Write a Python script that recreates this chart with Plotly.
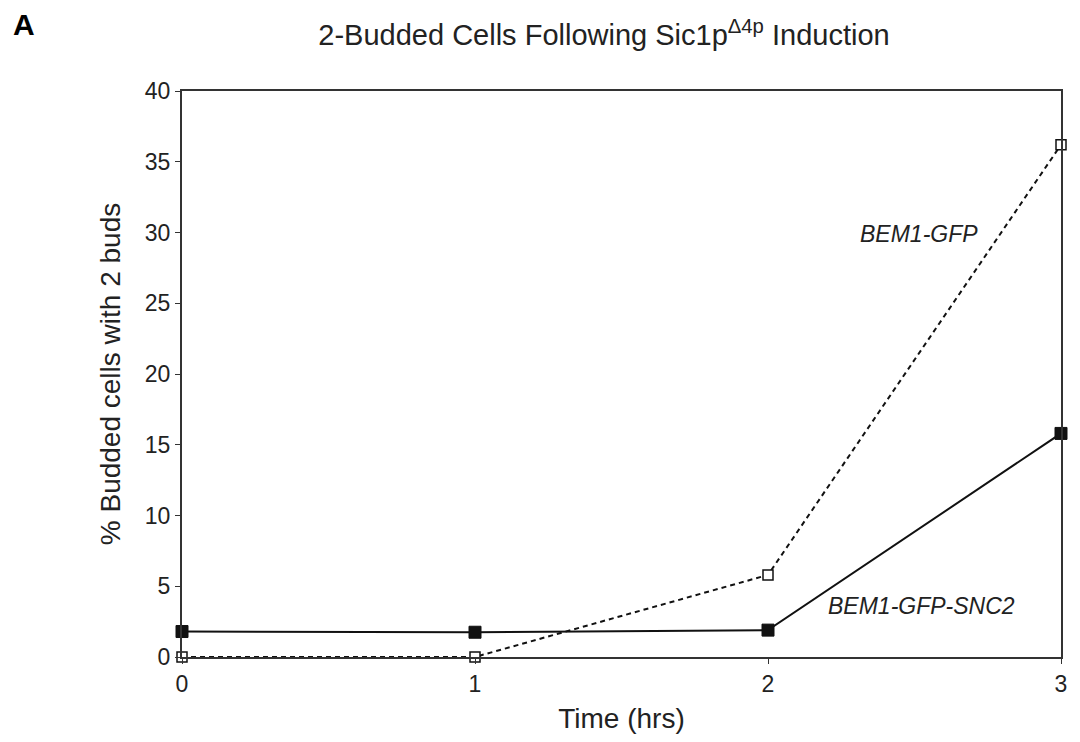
import plotly.graph_objects as go

time_hrs = [0, 1, 2, 3]
bem1_gfp = [0, 0, 5.8, 36.2]
bem1_gfp_snc2 = [1.8, 1.75, 1.9, 15.8]
x_ticks = [0, 1, 2, 3]
y_ticks = [0, 5, 10, 15, 20, 25, 30, 35, 40]

FONT = "Liberation Sans, Arial, Helvetica, sans-serif"
INK = "#222222"
AX = "#333333"

# page body has an 8px margin; size the figure so the plot lands where the reference has it
W, H = 1064, 726
L, R, T, B = 174, 5, 83, 74
PW, PH = W - L - R, H - T - B

fig = go.Figure()
fig.add_trace(go.Scatter(
    x=time_hrs, y=bem1_gfp, mode="lines+markers", name="BEM1-GFP",
    line=dict(color="#111111", width=2, dash="5px,4px"),
    marker=dict(symbol="square", size=10, color="white", line=dict(color="#111111", width=1.5)),
    cliponaxis=False,
))
fig.add_trace(go.Scatter(
    x=time_hrs, y=bem1_gfp_snc2, mode="lines+markers", name="BEM1-GFP-SNC2",
    line=dict(color="#111111", width=2),
    marker=dict(symbol="square", size=12, color="#111111", line=dict(color="#111111", width=1)),
    cliponaxis=False,
))

fig.add_annotation(x=2.515, y=29.9, text="<i>BEM1-GFP</i>", showarrow=False,
                   font=dict(family=FONT, size=23, color=INK))
fig.add_annotation(x=2.525, y=3.6, text="<i>BEM1-GFP-SNC2</i>", showarrow=False,
                   font=dict(family=FONT, size=23, color=INK))
fig.add_annotation(x=(2 - L) / PW, y=1 + (T - 16) / PH, xref="paper", yref="paper",
                   xanchor="left", yanchor="middle", text="<b>A</b>", showarrow=False,
                   font=dict(family=FONT, size=30, color="black"))

fig.update_layout(
    width=W, height=H,
    paper_bgcolor="white", plot_bgcolor="white",
    margin=dict(l=L, r=R, t=T, b=B),
    showlegend=False,
    font=dict(family=FONT, size=23, color=INK),
    title=dict(text="2-Budded Cells Following Sic1p<sup>\u03944p</sup> Induction",
               x=596 / W, xanchor="center", y=1 - 27 / H, yanchor="middle",
               font=dict(family=FONT, size=29, color=INK)),
)

fig.update_xaxes(range=[0, 3], tickvals=x_ticks, ticks="outside", ticklen=5, tickwidth=1.2,
                 tickcolor=AX, showline=True, linecolor=AX, linewidth=2, mirror=True,
                 showgrid=False, zeroline=False,
                 title=dict(text="Time (hrs)", font=dict(size=28), standoff=13),
                 tickfont=dict(size=23))
fig.update_yaxes(range=[0, 40], tickvals=y_ticks, ticks="outside", ticklen=5, tickwidth=1.2,
                 tickcolor=AX, showline=True, linecolor=AX, linewidth=2, mirror=True,
                 showgrid=False, zeroline=False,
                 title=dict(text="% Budded cells with 2 buds", font=dict(size=28), standoff=16),
                 tickfont=dict(size=23))

fig.write_html("out.html")
